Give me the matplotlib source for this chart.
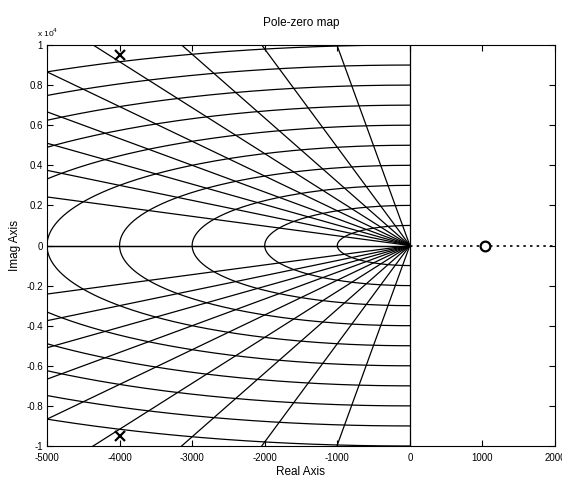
import numpy as np
import matplotlib
matplotlib.use("Agg")
import matplotlib.pyplot as plt

# ---- data ----
pole_re = [-4000, -4000]
pole_im = [9500, -9500]
zero_re = [1040]
zero_im = [0]
zeta_vals = [0.0, 0.1, 0.2, 0.3, 0.4, 0.5, 0.6, 0.7, 0.8, 0.9, 1.0]
wn_vals = [1000, 2000, 3000, 4000, 5000, 6000, 7000, 8000, 9000, 10000]
xticks = [-5000, -4000, -3000, -2000, -1000, 0, 1000, 2000]
xtick_labels = ['-5000', '-4000', '-3000', '-2000', '-1000', '0', '1000', '2000']
yticks = [-10000, -8000, -6000, -4000, -2000, 0, 2000, 4000, 6000, 8000, 10000]
ytick_labels = ['-1', '-0.8', '-0.6', '-0.4', '-0.2', '0', '0.2', '0.4', '0.6', '0.8', '1']

plt.rcParams['font.family'] = ['Liberation Sans', 'DejaVu Sans']

fig = plt.figure(figsize=(5.62, 4.78), dpi=100)
W, H = 562, 478
ax = fig.add_axes([47 / W, 1 - 446 / H, (555 - 47) / W, (446 - 45) / H])

lw = 0.9
R = 30000
# damping ratio lines
for z in zeta_vals:
    re = -R * z
    im = R * np.sqrt(1 - z * z)
    ax.plot([0, re], [0, im], color='black', lw=lw)
    ax.plot([0, re], [0, -im], color='black', lw=lw)
# natural frequency circles
th = np.linspace(np.pi / 2, 3 * np.pi / 2, 400)
for wn in wn_vals:
    ax.plot(wn * np.cos(th), wn * np.sin(th), color='black', lw=lw)

# real axis dotted (right half)
ax.plot([0, 2000], [0, 0], color='black', lw=1.2, linestyle=(0, (1.5, 2.5)))

# poles and zeros
ax.plot(pole_re, pole_im, linestyle='none', marker='x', color='black',
        markersize=7, markeredgewidth=1.6)
ax.plot(zero_re, zero_im, linestyle='none', marker='o', color='black',
        markerfacecolor='white', markersize=7, markeredgewidth=1.6)

ax.set_xlim(-5000, 2000)
ax.set_ylim(-10000, 10000)
ax.set_xticks(xticks)
ax.set_xticklabels(xtick_labels)
ax.set_yticks(yticks)
ax.set_yticklabels(ytick_labels)
ax.tick_params(direction='in', length=4, width=0.8, labelsize=7,
               top=True, right=True, pad=3)
ax.tick_params(axis='x', pad=5)
for s in ax.spines.values():
    s.set_linewidth(0.8)

ax.set_title('Pole-zero map', fontsize=8.5, pad=14)
ax.set_xlabel('Real Axis', fontsize=8.5, labelpad=2)
ax.set_ylabel('Imag Axis', fontsize=8.5, labelpad=4)
fig.text(37 / W, 1 - 33 / H, r'x 10$^4$', fontsize=6, va='center', ha='left')

fig.savefig('out.png', dpi=100, facecolor='white')
